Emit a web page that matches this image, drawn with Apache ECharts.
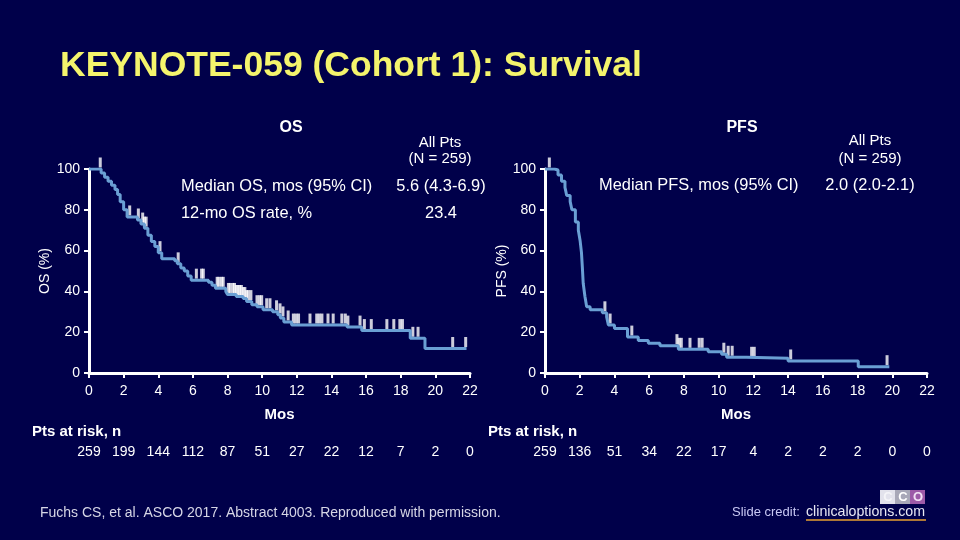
<!DOCTYPE html>
<html>
<head>
<meta charset="utf-8">
<script src="https://cdn.jsdelivr.net/npm/echarts@6/dist/echarts.min.js"></script>
<style>
html,body{margin:0;padding:0;background:#00004a;}
#chart{width:960px;height:540px;}
</style>
</head>
<body>
<div id="chart"></div>
<script>
// ---------- data ----------
var monthTicks = [0, 2, 4, 6, 8, 10, 12, 14, 16, 18, 20, 22];
var osRisk  = [259, 199, 144, 112, 87, 51, 27, 22, 12, 7, 2, 0];
var pfsRisk = [259, 136, 51, 34, 22, 17, 4, 2, 2, 2, 0, 0];

// Kaplan-Meier steps: [month, survival % after the drop]
var osCurve = [
  [0,100],[0.7,98],[0.9,96],[1.1,94],[1.3,92],[1.5,90],[1.65,87.5],[1.8,84],[2.0,80],[2.2,76.5],
  [2.8,75],[3.0,73],[3.2,71],[3.4,67.5],[3.6,64.5],[3.8,62],[4.0,59],[4.2,56],[4.95,55],[5.1,53.5],
  [5.3,51.5],[5.5,50],[5.7,47.5],[5.9,45.5],[6.9,44.5],[7.1,43],[7.3,41.5],[7.9,40],[8.0,38.5],
  [8.5,37.5],[8.9,36.5],[9.1,35],[9.4,33.5],[9.7,32.5],[10.05,31],[10.6,30],[10.9,28.5],[11.05,27],
  [11.25,25],[11.7,23.5],[14.9,22.5],[15.75,20.8],[18.55,17],[19.4,12],[21.8,12]
];
var osCensor = [0.65,2.35,2.85,3.1,3.2,3.3,4.1,5.15,6.2,6.5,6.6,7.4,7.5,7.65,7.75,8.05,8.15,8.3,8.4,8.5,
  8.6,8.7,8.8,8.9,9.0,9.1,9.2,9.35,9.7,9.85,9.97,10.26,10.45,10.83,11.03,11.2,11.5,11.8,11.95,12.1,
  12.76,13.15,13.3,13.45,13.8,14.1,14.6,14.8,14.95,15.65,15.9,16.3,17.2,17.6,17.95,18.1,18.7,19.0,21.0,21.75];

var pfsCurve = [
  [0,100],[0.55,99.5],[0.75,97],[0.95,94],[1.15,91],[1.25,87],[1.45,84],[1.55,80],[1.75,74],[1.92,70],
  [2.02,65],[2.1,59],[2.15,52],[2.2,44],[2.3,37.5],[2.4,32.5],[2.6,31],[3.3,29.5],[3.55,27.5],[3.65,23.5],
  [4.0,21.8],[4.75,17.6],[5.37,15.9],[5.95,14.6],[6.62,13.4],[7.68,11.6],[9.4,10.4],[10.17,9.2],
  [10.46,7.7],[11.6,7.2],[14.0,5.9],[18.04,3.1],[19.83,3.1]
];
var pfsCensor = [0.25,3.45,3.75,5.0,7.6,7.72,7.85,8.35,8.88,9.05,10.3,10.55,10.78,11.9,12.05,14.15,19.7];

// ---------- helpers ----------
function survAt(curve, t) {
  var v = curve[0][1];
  for (var i = 0; i < curve.length; i++) { if (curve[i][0] <= t) v = curve[i][1]; }
  return v;
}
function censorPoints(curve, times) {
  return times.map(function (t) { return [t, survAt(curve, t)]; });
}

var FONT = "'Liberation Sans', Arial, sans-serif";
var WHITE = '#ffffff';
var LINE = '#6a9fd4';

function xAxisMain(grid) {
  return {
    type: 'value', gridIndex: grid, min: 0, max: 22, interval: 2,
    axisLine: { show: true, lineStyle: { color: WHITE, width: 3 } },
    axisTick: { show: true, length: 5, lineStyle: { color: WHITE, width: 2 } },
    axisLabel: { color: WHITE, fontSize: 14, fontFamily: FONT, margin: 11 },
    splitLine: { show: false },
    name: 'Mos', nameLocation: 'middle', nameGap: 34,
    nameTextStyle: { color: WHITE, fontSize: 15, fontWeight: 'bold', fontFamily: FONT }
  };
}
function xAxisRisk(grid, risk) {
  return {
    type: 'value', gridIndex: grid, min: 0, max: 22, interval: 2, position: 'bottom', offset: 65,
    axisLine: { show: false }, axisTick: { show: false }, splitLine: { show: false },
    axisLabel: { color: WHITE, fontSize: 14, fontFamily: FONT, margin: 7,
      formatter: function (v) { var i = monthTicks.indexOf(v); return i >= 0 ? String(risk[i]) : ''; } }
  };
}
function yAxis(grid, name, gap) {
  return {
    type: 'value', gridIndex: grid, min: 0, max: 100, interval: 20,
    axisLine: { show: true, lineStyle: { color: WHITE, width: 3 } },
    axisTick: { show: true, length: 5, lineStyle: { color: WHITE, width: 2 } },
    axisLabel: { color: WHITE, fontSize: 14, fontFamily: FONT, margin: 9 },
    splitLine: { show: false },
    name: name, nameLocation: 'middle', nameGap: gap, nameRotate: 90,
    nameTextStyle: { color: WHITE, fontSize: 14, fontFamily: FONT }
  };
}
function txt(x, y, s, opt) {
  opt = opt || {};
  return { type: 'text', x: x, y: y, z: 10,
    style: { text: s, fill: opt.color || WHITE, font: (opt.bold ? 'bold ' : '') + (opt.size || 15) + 'px ' + FONT,
      textAlign: opt.align || 'left', textVerticalAlign: 'middle' } };
}

var chart = echarts.init(document.getElementById('chart'));
chart.setOption({
  backgroundColor: '#00004a',
  animation: false,
  title: {
    text: 'KEYNOTE-059 (Cohort 1): Survival', left: 55, top: 43,
    textStyle: { color: '#f4f46c', fontSize: 35.5, fontWeight: 'bold', fontFamily: FONT }
  },
  grid: [
    { left: 89, top: 169, width: 381, height: 204 },
    { left: 545, top: 169, width: 382, height: 204 }
  ],
  xAxis: [xAxisMain(0), xAxisRisk(0, osRisk), xAxisMain(1), xAxisRisk(1, pfsRisk)],
  yAxis: [yAxis(0, 'OS (%)', 37), yAxis(1, 'PFS (%)', 31)],
  series: [
    { type: 'scatter', xAxisIndex: 0, yAxisIndex: 0, z: 2, symbol: 'rect', symbolSize: [3, 10],
      symbolOffset: [0, -6.5], itemStyle: { color: WHITE }, data: censorPoints(osCurve, osCensor) },
    { type: 'line', xAxisIndex: 0, yAxisIndex: 0, z: 3, step: 'end', showSymbol: false,
      lineStyle: { color: LINE, width: 3 }, data: osCurve },
    { type: 'scatter', xAxisIndex: 2, yAxisIndex: 1, z: 2, symbol: 'rect', symbolSize: [3, 10],
      symbolOffset: [0, -6.5], itemStyle: { color: WHITE }, data: censorPoints(pfsCurve, pfsCensor) },
    { type: 'line', xAxisIndex: 2, yAxisIndex: 1, z: 3, step: 'end', showSymbol: false,
      lineStyle: { color: LINE, width: 3 }, data: pfsCurve }
  ],
  graphic: [
    txt(291, 128, 'OS', { bold: true, size: 16, align: 'center' }),
    txt(440, 143, 'All Pts', { align: 'center' }),
    txt(440, 159, '(N = 259)', { align: 'center' }),
    txt(181, 186, 'Median OS, mos (95% CI)', { size: 16.4 }),
    txt(441, 186, '5.6 (4.3-6.9)', { size: 16.4, align: 'center' }),
    txt(181, 213, '12-mo OS rate, %', { size: 16.4 }),
    txt(441, 213, '23.4', { size: 16.4, align: 'center' }),
    txt(742, 128, 'PFS', { bold: true, size: 16, align: 'center' }),
    txt(870, 141, 'All Pts', { align: 'center' }),
    txt(870, 159, '(N = 259)', { align: 'center' }),
    txt(599, 185, 'Median PFS, mos (95% CI)', { size: 16.4 }),
    txt(870, 185, '2.0 (2.0-2.1)', { size: 16.4, align: 'center' }),
    txt(32, 432, 'Pts at risk, n', { bold: true, size: 15 }),
    txt(488, 432, 'Pts at risk, n', { bold: true, size: 15 }),
    txt(40, 513, 'Fuchs CS, et al. ASCO 2017. Abstract 4003. Reproduced with permission.', { size: 14, color: '#d6d6e6' }),
    txt(732, 512, 'Slide credit: ', { size: 13, color: '#c8c8f4' }),
    txt(806, 512, 'clinicaloptions.com', { size: 14.2, color: '#e8e8f4' }),
    { type: 'line', shape: { x1: 806, y1: 520, x2: 926, y2: 520 }, style: { stroke: '#e8a030', lineWidth: 1.5 } },
    { type: 'rect', shape: { x: 880, y: 490, width: 15, height: 14 }, style: { fill: '#e2e2ec' } },
    { type: 'rect', shape: { x: 895, y: 490, width: 15, height: 14 }, style: { fill: '#a8a8b8' } },
    { type: 'rect', shape: { x: 910, y: 490, width: 15, height: 14 }, style: { fill: '#9c5aa8' } },
    txt(888, 497, 'C', { bold: true, size: 13, align: 'center', color: '#f4f4f8' }),
    txt(903, 497, 'C', { bold: true, size: 13, align: 'center', color: '#ffffff' }),
    txt(918, 497, 'O', { bold: true, size: 13, align: 'center', color: '#f0e0f4' })
  ]
});
</script>
</body>
</html>
